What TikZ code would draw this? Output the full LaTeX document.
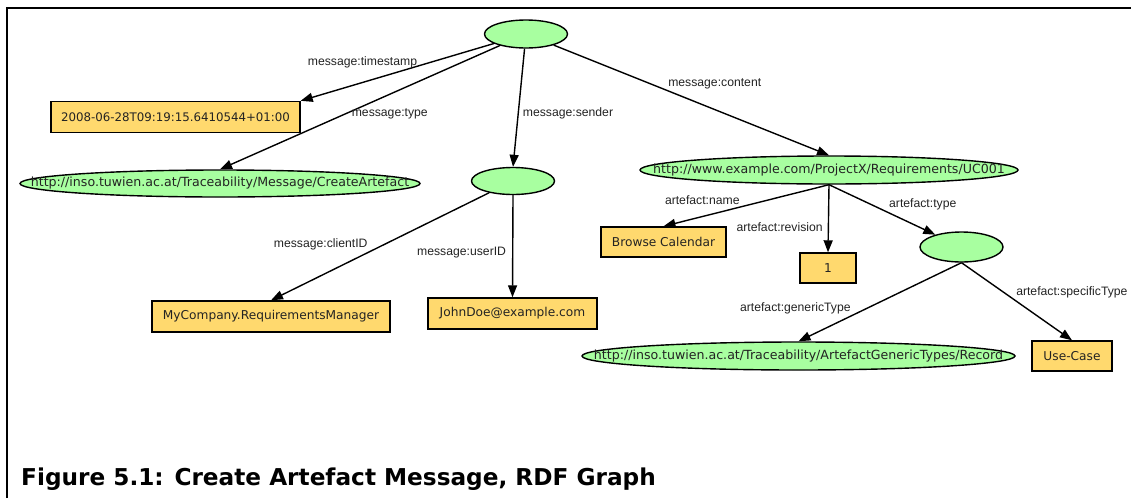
\documentclass[tikz,border=0pt]{standalone}
\usepackage{fontspec}
\setmainfont{Liberation Sans}
\newfontfamily\nodefont{DejaVu Sans}
\usetikzlibrary{arrows.meta, positioning, shapes.geometric}
\definecolor{nodegreen}{RGB}{168,255,160}
\definecolor{nodeyellow}{RGB}{255,217,110}
\definecolor{labelgray}{RGB}{35,35,35}

\begin{document}
\begin{tikzpicture}[x=1pt, y=-1pt,
        bnode/.style={draw, ellipse, fill=nodegreen, line width=1.4pt, inner sep=0pt, minimum width=83pt, minimum height=28pt},
        uri/.style={draw, ellipse, fill=nodegreen, line width=1.4pt, inner sep=0pt, minimum height=27pt, font=\nodefont\fontsize{12.6}{15}\selectfont, text=labelgray},
        literal/.style={draw, rectangle, fill=nodeyellow, line width=1.4pt, inner sep=0pt, minimum height=31pt, font=\nodefont\fontsize{12.2}{15}\selectfont, text=labelgray},
        rel/.style={-{Triangle[length=12pt, width=9pt]}, line width=1.4pt},
        lbl/.style={font=\fontsize{12.2}{14}\selectfont, inner sep=1pt, text=labelgray},
        frameline/.style={line width=1.4pt}
    ]
        \useasboundingbox (0,0) rectangle (1131,498);

        % --- frame ---
        \draw[frameline] (7,498) -- (7,8) -- (1131,8);

        % --- message resource ---
        \node[bnode] (root) at (526,34) {};
        \node[literal, minimum width=249pt] (ts) at (175.5,117) {\fontsize{11.8}{15}\selectfont 2008-06-28T09:19:15.6410544+01:00};
        \node[uri, minimum width=400pt] (ca) at (220,183.5) {\makebox[0pt]{http://inso.tuwien.ac.at/Traceability/Message/CreateArtefact}};

        % --- sender ---
        \node[bnode, minimum height=27pt] (se) at (513,181) {};
        \node[literal, minimum width=238pt] (mc) at (271,316.5) {MyCompany.RequirementsManager};
        \node[literal, minimum width=169pt] (jd) at (512.5,313.5) {JohnDoe@example.com};

        % --- content: the artefact ---
        \node[uri, minimum width=378pt, minimum height=28pt] (uc) at (829,170) {\makebox[0pt]{http://www.example.com/ProjectX/Requirements/UC001}};
        \node[literal, minimum width=125pt, minimum height=30pt] (bc) at (663.5,242) {Browse Calendar};
        \node[literal, minimum width=56pt, minimum height=30pt] (rev) at (828,268) {1};
        \node[bnode, minimum height=30pt] (ty) at (961.5,247) {};
        \node[uri, minimum width=433pt, minimum height=28pt] (rec) at (798.5,356) {\makebox[0pt]{http://inso.tuwien.ac.at/Traceability/ArtefactGenericTypes/Record}};
        \node[literal, minimum width=80pt, minimum height=30pt] (usec) at (1072,356) {Use-Case};

        % --- properties ---
        \draw[rel] (root) -- (ts.north east) node[lbl, pos=0.68, above=12.8pt] {message:timestamp};
        \draw[rel] (root) -- (ca.north) node[lbl, pos=0.553, right=5pt] {message:type};
        \draw[rel] (root) -- (se.north) node[lbl, pos=0.55, right=3pt] {message:sender};
        \draw[rel] (root) -- (uc.north) node[lbl, pos=0.41, anchor=south west] {message:content};

        \draw[rel] (se) -- (mc.north) node[lbl, pos=0.55, anchor=south east] {message:clientID};
        \draw[rel] (se.south) -- (jd.north) node[lbl, pos=0.56, left=5pt] {message:userID};

        \draw[rel] (uc.south) -- (bc.north) node[lbl, pos=0.53, anchor=south east] {artefact:name};
        \draw[rel] (uc.south) -- (rev.north) node[lbl, pos=0.63, left=4pt] {artefact:revision};
        \draw[rel] (uc.south) -- (ty) node[lbl, pos=0.55, anchor=south west] {artefact:type};

        \draw[rel] (ty.south) -- (rec.north) node[lbl, pos=0.67, anchor=south east] {artefact:genericType};
        \draw[rel] (ty.south) -- (usec.north) node[lbl, pos=0.48, anchor=south west] {artefact:specificType};

        % --- caption ---
        \node[font=\nodefont\bfseries\fontsize{23.2}{28}\selectfont, anchor=base west, inner sep=0pt] (title) at (21,485.5) {Figure 5.1: Create Artefact Message, RDF Graph};
\end{tikzpicture}
\end{document}
